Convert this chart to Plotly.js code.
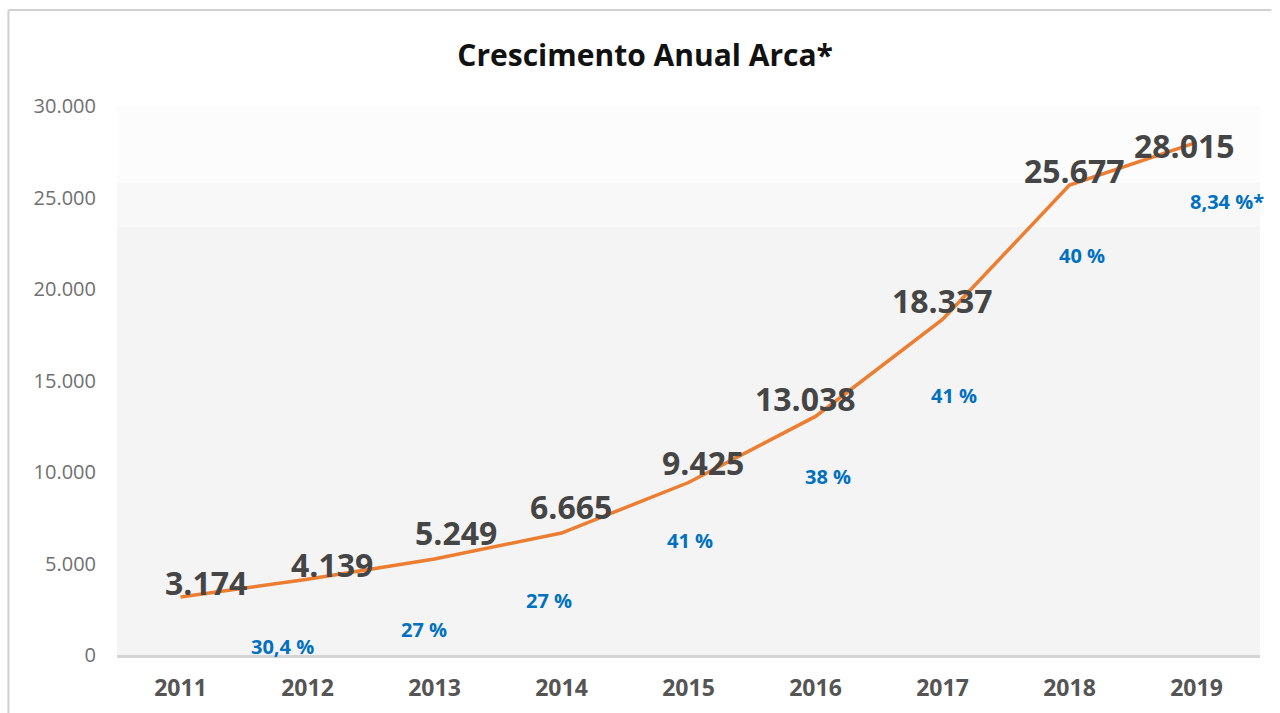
<!DOCTYPE html>
<html>
<head>
<meta charset="utf-8">
<script src="https://cdn.plot.ly/plotly-3.0.1.min.js"></script>
<style>html,body{margin:0;padding:0;background:#fff;}#chart{width:1280px;height:713px;}</style>
</head>
<body>
<div id="chart"></div>
<script>
const years = ['2011','2012','2013','2014','2015','2016','2017','2018','2019'];
const values = [3174, 4139, 5249, 6665, 9425, 13038, 18337, 25677, 28015];
const valueLabels = ['3.174','4.139','5.249','6.665','9.425','13.038','18.337','25.677','28.015'];
const growthYears = ['2012','2013','2014','2015','2016','2017','2018','2019'];
const growthLabels = ['30,4 %','27 %','27 %','41 %','38 %','41 %','40 %','8,34 %*'];

// label offsets (pixels) relative to each point
const valShift = [[25,14],[24,15],[21,26],[9,27],[14,20],[-10,18],[0,19],[5,15],[-12,-3]];
const pctShift = [[-25,-67],[-11,-71],[-13,-67],[1,-58],[12,-60],[11,-76],[12,-70],[30,-59]];

const FONT = '"Open Sans", "Noto Sans", sans-serif';
const annotations = [];
years.forEach((yr,i)=>{
  annotations.push({x: i, y: values[i], xref:'x', yref:'y', text: '<b>'+valueLabels[i]+'</b>', showarrow:false,
    xshift: valShift[i][0], yshift: valShift[i][1],
    font:{family:FONT, size:32, color:'#454545'}});
});
growthYears.forEach((yr,i)=>{
  const idx = years.indexOf(yr);
  annotations.push({x: idx, y: values[idx], xref:'x', yref:'y', text: '<b>'+growthLabels[i]+'</b>', showarrow:false,
    xshift: pctShift[i][0], yshift: pctShift[i][1],
    font:{family:FONT, size:20, color:'#0070C0'}});
});

const trace = {
  x: years, y: values, type:'scatter', mode:'lines',
  line:{color:'#ED7D31', width:3.5}, hoverinfo:'skip'
};

const layout = {
  width:1280, height:713,
  margin:{l:117, r:20, t:106, b:58},
  paper_bgcolor:'#ffffff', plot_bgcolor:'#fcfcfc',
  separators: ',.',
  title:{text:'<b>Crescimento Anual Arca*</b>', x:0.504, xanchor:'center', y:0.922, yanchor:'middle',
    font:{family:FONT, size:30, color:'#111111'}},
  showlegend:false,
  xaxis:{type:'category', range:[-0.5, 8.5], showgrid:false, zeroline:false,
    showline:true, linecolor:'#d4d4d4', linewidth:3, ticks:'',
    tickfont:{family:FONT, size:23, color:'#555555', weight:'bold'},
    ticklabelstandoff: 10},
  yaxis:{range:[0,30000], dtick:5000, tickformat:',d', showgrid:false, zeroline:false, showline:false,
    ticks:'', tickfont:{family:FONT, size:20, color:'#707070'},
    ticklabelstandoff: 20},
  shapes:[
    {type:'rect', xref:'paper', yref:'paper', x0:0, x1:1, y0:0, y1:0.78, fillcolor:'#f4f4f4', line:{width:0}, layer:'below'},
    {type:'rect', xref:'paper', yref:'paper', x0:0, x1:1, y0:0.78, y1:0.86, fillcolor:'#f8f8f8', line:{width:0}, layer:'below'},
    {type:'line', xref:'paper', yref:'paper', x0:-0.095, x1:1.01, y0:1.175, y1:1.175, line:{color:'#d0d0d0', width:2}},
    {type:'line', xref:'paper', yref:'paper', x0:-0.095, x1:-0.095, y0:-0.11, y1:1.175, line:{color:'#d0d0d0', width:2}}
  ],
  annotations: annotations
};

Plotly.newPlot('chart', [trace], layout, {displayModeBar:false, staticPlot:true});
</script>
</body>
</html>
